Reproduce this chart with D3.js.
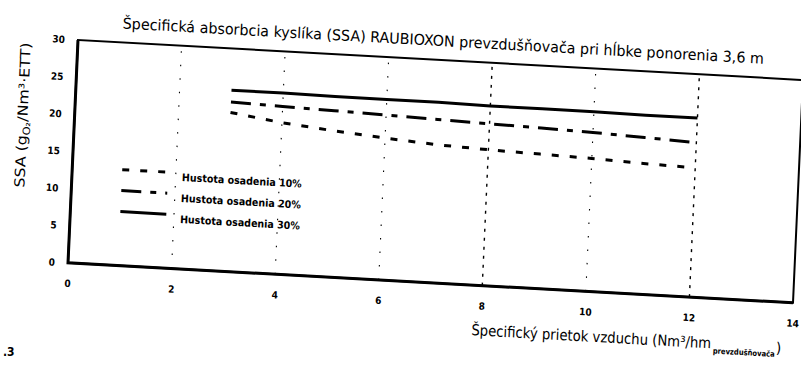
<!DOCTYPE html>
<html>
<head>
<meta charset="utf-8">
<script src="https://cdn.jsdelivr.net/npm/d3@7"></script>
<style>
  body { margin: 0; background: #fff; }
  svg { display: block; }
  text { fill: #000; }
</style>
</head>
<body>
<svg id="chart" width="801" height="367"></svg>
<script>
// Specific air flow (Nm3/h per diffuser) and the SSA measured for three diffuser densities
const flow  = [3, 4, 5, 6, 7, 8, 9, 10, 11, 12];
const ssa10 = [21.4, 20.4, 19.7, 19.1, 18.6, 18.3, 18.1, 17.9, 17.6, 17.4];
const ssa20 = [22.8, 22.6, 22.4, 22.2, 22.0, 21.8, 21.6, 21.4, 21.1, 20.8];
const ssa30 = [24.4, 24.4, 24.3, 24.3, 24.3, 24.2, 24.2, 24.2, 24.1, 24.1];

const seriesLabels = ["Hustota osadenia 10%", "Hustota osadenia 20%", "Hustota osadenia 30%"];
const xTicks = [0, 2, 4, 6, 8, 10, 12, 14];
const yTicks = [0, 5, 10, 15, 20, 25, 30];
const gridTicks = [2, 4, 6, 8, 10, 12];

const chartTitle = "Špecifická absorbcia kyslíka (SSA) RAUBIOXON prevzdušňovača pri hĺbke ponorenia 3,6 m";
const xTitle = "Špecifický prietok vzduchu (Nm³/hm";
const xTitleSub = "prevzdušňovača";
const pageMark = ".3";

const W = 726, H = 223;
const font = "'Liberation Sans Narrow','DejaVu Sans Condensed','Liberation Sans',Arial,sans-serif";

const svg = d3.select("#chart");

// the printed page sits a few degrees off square
const g = svg.append("g")
  .attr("transform", "matrix(0.9986 0.0551 -0.0448 0.9991 78 40)");

const x = d3.scaleLinear().domain([0, 14]).range([0, W]);
const y = d3.scaleLinear().domain([0, 30]).range([H, 0]);

// dotted vertical guides
g.append("g").selectAll("line")
  .data(gridTicks)
  .join("line")
  .attr("x1", d => x(d)).attr("x2", d => x(d))
  .attr("y1", y(0)).attr("y2", y(30))
  .attr("stroke", "#000")
  .attr("stroke-width", d => (d === 8 || d === 12) ? 1.4 : 1.1)
  .attr("stroke-dasharray", d => (d === 8 || d === 12) ? "3,6" : "1.5,12");

// axes (labels only, no tick marks)
const xAxis = g.append("g")
  .attr("transform", `translate(0,${H})`)
  .call(d3.axisBottom(x).tickValues(xTicks).tickSize(0).tickPadding(17).tickFormat(d3.format("d")));
const yAxis = g.append("g")
  .call(d3.axisLeft(y).tickValues(yTicks).tickSize(0).tickPadding(13).tickFormat(d3.format("d")));
[xAxis, yAxis].forEach(a => {
  a.select(".domain").remove();
  a.selectAll("text")
    .attr("font-family", font)
    .attr("font-weight", "bold")
    .attr("font-size", 10)
    .attr("fill", "#000");
});

// frame
g.append("rect")
  .attr("x", 0).attr("y", 0).attr("width", W).attr("height", H)
  .attr("fill", "none").attr("stroke", "#000").attr("stroke-width", 2);
g.append("path")
  .attr("d", `M${x(0)},${y(30)}V${y(0)}H${x(14)}`)
  .attr("fill", "none").attr("stroke", "#000").attr("stroke-width", 3);

// series
const series = [
  { values: ssa10, dash: "7,11", width: 3 },
  { values: ssa20, dash: "20,9,6,9", width: 3 },
  { values: ssa30, dash: null, width: 3 }
];
const line = d3.line().x((d, i) => x(flow[i])).y(d => y(d));
g.append("g").selectAll("path")
  .data(series)
  .join("path")
  .attr("d", d => line(d.values))
  .attr("fill", "none")
  .attr("stroke", "#000")
  .attr("stroke-width", d => d.width)
  .attr("stroke-dasharray", d => d.dash);

// legend
const legend = g.append("g").attr("transform", "translate(50,127)");
const item = legend.selectAll("g")
  .data(series)
  .join("g")
  .attr("transform", (d, i) => `translate(0,${i * 21})`);
item.append("line")
  .attr("x1", 0).attr("x2", 46).attr("y1", 0).attr("y2", 0)
  .attr("stroke", "#000")
  .attr("stroke-width", d => d.width)
  .attr("stroke-dasharray", d => d.dash);
item.append("text")
  .attr("x", 60).attr("y", 8)
  .attr("font-family", font)
  .attr("font-weight", "bold")
  .attr("font-size", 10.5)
  .attr("textLength", 120)
  .attr("lengthAdjust", "spacingAndGlyphs")
  .text((d, i) => seriesLabels[i]);

// chart title
g.append("text")
  .attr("x", 365).attr("y", -14)
  .attr("text-anchor", "middle")
  .attr("font-family", font)
  .attr("font-size", 15)
  .attr("textLength", 642)
  .attr("lengthAdjust", "spacingAndGlyphs")
  .text(chartTitle);

// y axis title
const yt = g.append("text")
  .attr("transform", "translate(-47,78) rotate(-90)")
  .attr("text-anchor", "middle")
  .attr("font-family", font)
  .attr("font-size", 14)
  .attr("textLength", 145)
  .attr("lengthAdjust", "spacingAndGlyphs");
yt.append("tspan").text("SSA (g");
yt.append("tspan").attr("font-size", 10).attr("dy", 3).text("O₂");
yt.append("tspan").attr("dy", -3).text("/Nm³·ETT)");

// x axis title
g.append("text")
  .attr("x", 406).attr("y", 273)
  .attr("font-family", font)
  .attr("font-size", 15)
  .attr("textLength", 240)
  .attr("lengthAdjust", "spacingAndGlyphs")
  .text(xTitle);
g.append("text")
  .attr("x", 648).attr("y", 278)
  .attr("font-family", font)
  .attr("font-weight", "bold")
  .attr("font-size", 8)
  .attr("textLength", 62)
  .attr("lengthAdjust", "spacingAndGlyphs")
  .text(xTitleSub);
g.append("text")
  .attr("x", 711).attr("y", 274)
  .attr("font-family", font)
  .attr("font-size", 15)
  .text(")");

// page mark in the lower left corner
svg.append("text")
  .attr("x", 3).attr("y", 356)
  .attr("font-family", font)
  .attr("font-weight", "bold")
  .attr("font-size", 12)
  .text(pageMark);
</script>
</body>
</html>
